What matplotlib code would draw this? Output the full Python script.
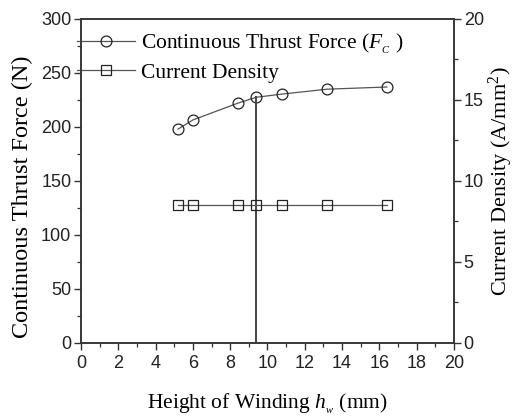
import matplotlib
matplotlib.use("Agg")
import matplotlib.pyplot as plt
from matplotlib.ticker import MultipleLocator

# winding height sweep (mm)
winding_height = [5.2, 6.0, 8.4, 9.4, 10.8, 13.2, 16.4]
thrust_force = [198, 206.5, 222, 227.5, 230.5, 235, 237]
current_density = [8.5, 8.5, 8.5, 8.5, 8.5, 8.5, 8.5]
selected_height = 9.4
selected_force = 227.5

plt.rcParams["mathtext.fontset"] = "custom"
plt.rcParams["mathtext.rm"] = "Liberation Serif"
plt.rcParams["mathtext.it"] = "Liberation Serif:italic"

serif = "Liberation Serif"
sans = "Liberation Sans"
line_color = "#555555"
axis_color = "#333333"

fig = plt.figure(figsize=(5.18, 4.17), dpi=100)
ax = fig.add_axes([0.1564, 0.1775, 0.72, 0.777])
ax2 = ax.twinx()

h1, = ax.plot(winding_height, thrust_force, color=line_color, lw=0.9,
              marker="o", ms=7.8, mfc="none", mec="#222222", mew=0.9,
              label=r"Continuous Thrust Force ($F_{_C}$ )")
h2, = ax2.plot(winding_height, current_density, color=line_color, lw=0.9,
               marker="s", ms=6.8, mfc="none", mec="#222222", mew=0.9,
               label="Current Density")
ax.plot([selected_height, selected_height], [0, selected_force],
        color="#444444", lw=1.4)

ax.set_xlim(0, 20)
ax.set_ylim(0, 300)
ax2.set_ylim(0, 20)
ax.xaxis.set_major_locator(MultipleLocator(2))
ax.xaxis.set_minor_locator(MultipleLocator(1))
ax.yaxis.set_major_locator(MultipleLocator(50))
ax.yaxis.set_minor_locator(MultipleLocator(25))
ax2.yaxis.set_major_locator(MultipleLocator(5))
ax2.yaxis.set_minor_locator(MultipleLocator(2.5))

for a in (ax, ax2):
    for s in a.spines.values():
        s.set_color(axis_color)
        s.set_linewidth(1.1)
    a.tick_params(which="major", direction="out", length=5, width=1.0,
                  color=axis_color, labelsize=13, pad=2)
    a.tick_params(which="minor", direction="out", length=3, width=0.9,
                  color=axis_color)
    for lbl in a.get_xticklabels() + a.get_yticklabels():
        lbl.set_family(sans)
        lbl.set_color("#222222")
ax.tick_params(axis="x", which="major", pad=4)

ax.set_xlabel(r"Height of Winding $h_{_w}$ (mm)", family=serif,
              fontsize=15.5, labelpad=14)
ax.set_ylabel("Continuous Thrust Force (N)", family=serif, fontsize=17.5)
ax.yaxis.set_label_coords(-0.128, 0.45)
ax2.set_ylabel(r"Current Density (A/mm$^2$)", family=serif, fontsize=16,
               labelpad=2)

ax.legend(handles=[h1, h2], loc="upper left", bbox_to_anchor=(-0.01, 0.96),
          frameon=False, prop={"family": serif, "size": 15.5},
          handlelength=2.7, handletextpad=0.25, borderaxespad=0,
          labelspacing=0.3, borderpad=0)

fig.savefig("out.png", dpi=100)
